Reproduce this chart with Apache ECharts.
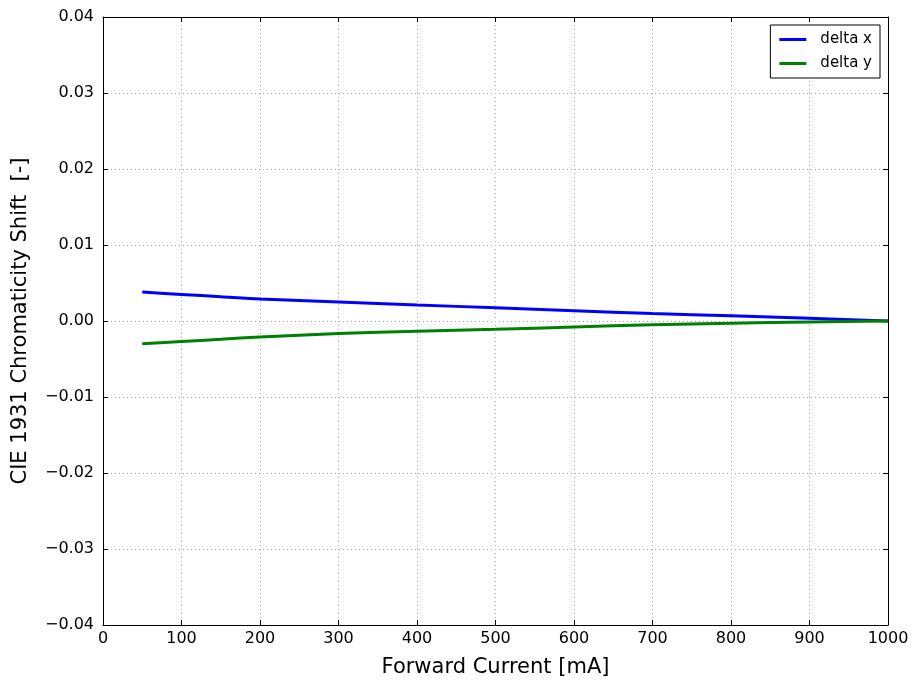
<!DOCTYPE html>
<html>
<head>
<meta charset="utf-8">
<script src="https://cdn.jsdelivr.net/npm/echarts@6/dist/echarts.min.js"></script>
<style>
html,body{margin:0;padding:0;background:#fff;}
#chart{width:914px;height:682px;}
</style>
</head>
<body>
<div id="chart"></div>
<script>
// Forward current [mA]
const current = [50, 100, 150, 200, 300, 400, 500, 600, 700, 800, 900, 1000];
// Chromaticity shift relative to 1000 mA
const deltaX = [0.0038, 0.0035, 0.0032, 0.0029, 0.0025, 0.0021, 0.00175, 0.00136, 0.00098, 0.0007, 0.00035, 0.0];
const deltaY = [-0.0030, -0.0027, -0.0024, -0.0021, -0.00165, -0.00135, -0.0011, -0.00078, -0.0005, -0.0003, -0.00013, 0.0];
const seriesNames = ['delta x', 'delta y'];
const seriesColors = ['#0000ff', '#008000'];

const font = 'DejaVu Sans';
const pair = (xs, ys) => xs.map((x, i) => [x, ys[i]]);
const fmtY = v => {
  const s = Math.abs(v).toFixed(2);
  return v < -1e-9 ? '\u2212' + s : s;
};

const gridLine = { show: true, lineStyle: { color: '#b0b0b0', type: [1, 3], width: 1 } };
const baseAxis = {
  axisLine: { show: true, onZero: false, lineStyle: { color: '#000', width: 1 } },
  axisTick: { show: true, inside: true, length: 5, lineStyle: { color: '#000' } },
};

const chart = echarts.init(document.getElementById('chart'));
chart.setOption({
  animation: false,
  backgroundColor: '#fff',
  grid: { left: 103, right: 26, top: 17, bottom: 57, containLabel: false, outerBoundsMode: 'none' },
  legend: {
    right: 34, top: 25,
    orient: 'vertical',
    backgroundColor: '#fff',
    borderColor: '#000', borderWidth: 1,
    padding: [7, 8, 7, 9],
    itemGap: 9,
    itemWidth: 27, itemHeight: 3,
    icon: 'rect',
    textStyle: { fontFamily: font, fontSize: 15, color: '#000', padding: [0, 0, 0, 9] },
    data: seriesNames
  },
  xAxis: [
    Object.assign({}, baseAxis, {
      type: 'value', min: 0, max: 1000, interval: 100,
      name: 'Forward Current [mA]', nameLocation: 'middle', nameGap: 32,
      nameTextStyle: { fontFamily: font, fontSize: 21, color: '#000' },
      axisLabel: { fontFamily: font, fontSize: 16, color: '#000', margin: 6, formatter: v => String(v) },
      splitLine: gridLine
    }),
    Object.assign({}, baseAxis, {
      type: 'value', min: 0, max: 1000, interval: 100, position: 'top',
      axisLabel: { show: false }, splitLine: { show: false }
    })
  ],
  yAxis: [
    Object.assign({}, baseAxis, {
      type: 'value', min: -0.04, max: 0.04, interval: 0.01,
      name: 'CIE 1931 Chromaticity Shift  [-]', nameLocation: 'middle', nameGap: 72,
      nameTextStyle: { fontFamily: font, fontSize: 21, color: '#000' },
      axisLabel: { fontFamily: font, fontSize: 16, color: '#000', margin: 9, formatter: fmtY },
      splitLine: gridLine
    }),
    Object.assign({}, baseAxis, {
      type: 'value', min: -0.04, max: 0.04, interval: 0.01, position: 'right',
      axisLabel: { show: false }, splitLine: { show: false }
    })
  ],
  series: [
    {
      name: seriesNames[0], type: 'line', smooth: 0.3, showSymbol: false,
      data: pair(current, deltaX),
      lineStyle: { color: seriesColors[0], width: 3 },
      itemStyle: { color: seriesColors[0] }
    },
    {
      name: seriesNames[1], type: 'line', smooth: 0.3, showSymbol: false,
      data: pair(current, deltaY),
      lineStyle: { color: seriesColors[1], width: 3 },
      itemStyle: { color: seriesColors[1] }
    }
  ]
});
</script>
</body>
</html>
